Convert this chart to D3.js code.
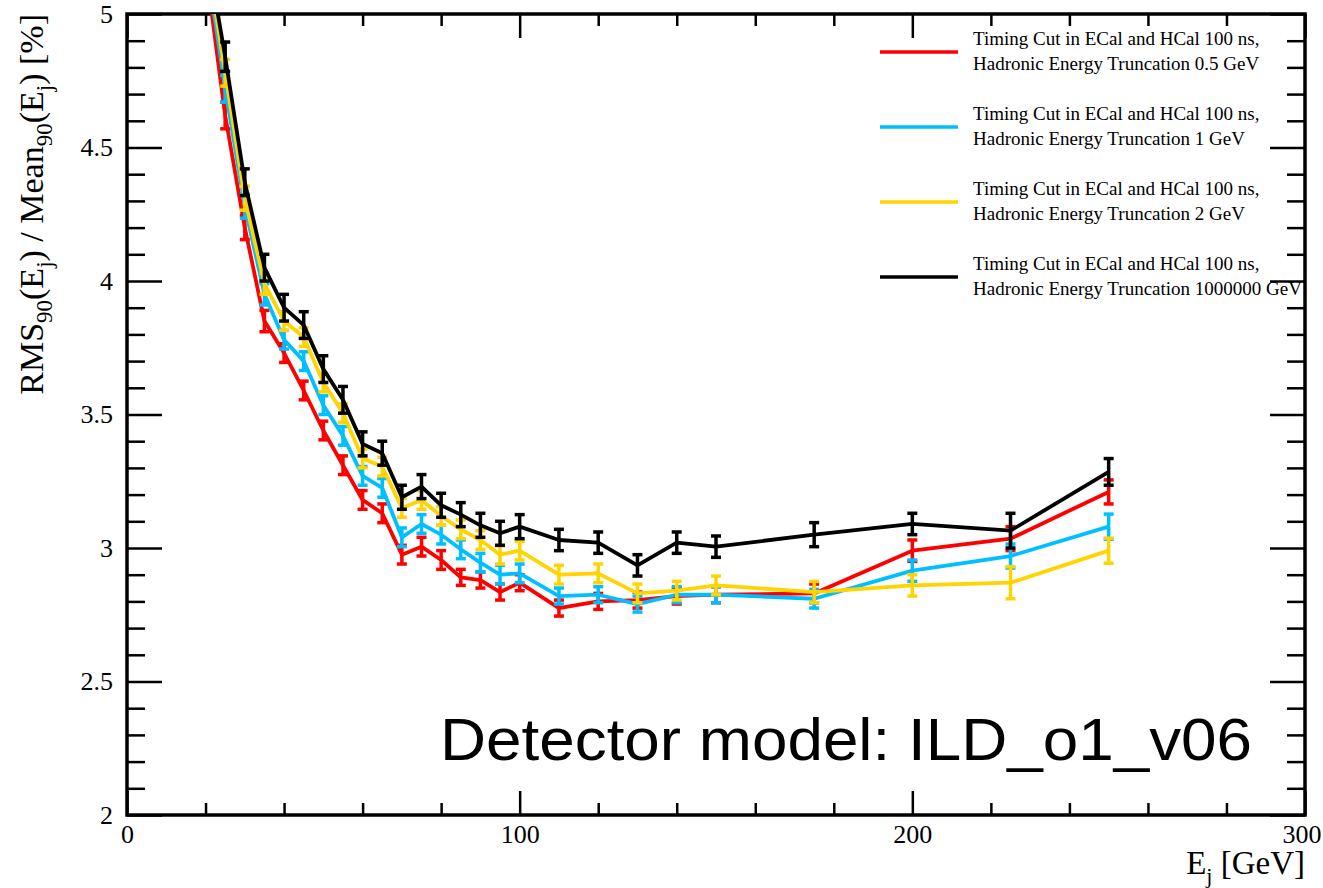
<!DOCTYPE html>
<html>
<head>
<meta charset="utf-8">
<script src="https://cdn.jsdelivr.net/npm/d3@7"></script>
<style>
  body { margin: 0; background: #fff; }
  text { font-family: "Liberation Serif", "Times New Roman", serif; }
</style>
</head>
<body>
<div id="chart"></div>
<script>
//////////////////////////////////////// Data ////////////////////////////////////////
const energies = [20, 25, 30, 35, 40, 45, 50, 55, 60, 65, 70, 75, 80, 85, 90, 95, 100, 110, 120, 130, 140, 150, 175, 200, 225, 250];

const res05 = [5.18, 4.62, 4.20, 3.85, 3.73, 3.59, 3.44, 3.31, 3.18, 3.13, 2.975, 3.005, 2.955, 2.89, 2.88, 2.835, 2.87, 2.775, 2.80, 2.805, 2.82, 2.825, 2.83, 2.99, 3.035, 3.21];
const err05 = [0.05, 0.05, 0.045, 0.04, 0.035, 0.035, 0.035, 0.035, 0.035, 0.035, 0.035, 0.035, 0.035, 0.03, 0.03, 0.03, 0.03, 0.03, 0.03, 0.03, 0.03, 0.03, 0.035, 0.04, 0.045, 0.045];

const res1 = [5.22, 4.72, 4.28, 3.95, 3.78, 3.70, 3.535, 3.42, 3.27, 3.225, 3.04, 3.09, 3.05, 2.995, 2.945, 2.90, 2.905, 2.82, 2.825, 2.79, 2.825, 2.825, 2.81, 2.915, 2.97, 3.08];
const err1 = [0.05, 0.05, 0.045, 0.04, 0.035, 0.035, 0.035, 0.035, 0.035, 0.035, 0.035, 0.035, 0.035, 0.035, 0.035, 0.035, 0.035, 0.03, 0.03, 0.03, 0.03, 0.03, 0.035, 0.04, 0.045, 0.047];

const res2 = [5.25, 4.78, 4.31, 3.99, 3.85, 3.79, 3.62, 3.505, 3.335, 3.305, 3.15, 3.18, 3.12, 3.07, 3.03, 2.975, 2.99, 2.90, 2.905, 2.83, 2.84, 2.86, 2.835, 2.86, 2.87, 2.99];
const err2 = [0.05, 0.05, 0.045, 0.04, 0.035, 0.035, 0.035, 0.035, 0.035, 0.035, 0.035, 0.035, 0.035, 0.035, 0.035, 0.035, 0.035, 0.035, 0.035, 0.035, 0.035, 0.035, 0.04, 0.04, 0.06, 0.047];

const resInf = [5.27, 4.84, 4.37, 4.05, 3.90, 3.835, 3.67, 3.555, 3.39, 3.355, 3.19, 3.23, 3.16, 3.125, 3.085, 3.055, 3.08, 3.03, 3.02, 2.935, 3.02, 3.005, 3.05, 3.09, 3.065, 3.285];
const errInf = [0.055, 0.055, 0.05, 0.05, 0.05, 0.05, 0.05, 0.05, 0.045, 0.045, 0.045, 0.045, 0.045, 0.045, 0.045, 0.045, 0.045, 0.04, 0.04, 0.04, 0.04, 0.04, 0.045, 0.04, 0.065, 0.05];

const legendLine1 = "Timing Cut in ECal and HCal 100 ns,";
const legendLine2 = ["Hadronic Energy Truncation 0.5 GeV", "Hadronic Energy Truncation 1 GeV",
                     "Hadronic Energy Truncation 2 GeV", "Hadronic Energy Truncation 1000000 GeV"];
const colors = ["#ff0000", "#00bfff", "#ffd400", "#000000"];
const seriesVals = [res05, res1, res2, resInf];
const seriesErrs = [err05, err1, err2, errInf];

const xTicks = [0, 100, 200, 300];
const yTicks = [2, 2.5, 3, 3.5, 4, 4.5, 5];

//////////////////////////////////////// Set-Up ////////////////////////////////////////
const W = 1323, H = 888;
const frame = {left: 127, right: 1305, top: 14, bottom: 815};

const x = d3.scaleLinear().domain([0, 300]).range([frame.left, frame.right]);
const y = d3.scaleLinear().domain([2, 5]).range([frame.bottom, frame.top]);

const svg = d3.select("#chart").append("svg")
    .attr("width", W)
    .attr("height", H);

svg.append("defs").append("clipPath").attr("id", "frameClip")
  .append("rect")
    .attr("x", frame.left).attr("y", frame.top)
    .attr("width", frame.right - frame.left)
    .attr("height", frame.bottom - frame.top);

//////////////////////////////////////// Axes ////////////////////////////////////////
const minorX = d3.range(0, 301, 20).filter(d => d % 100 !== 0);
const minorY = d3.range(20, 51, 1).map(d => d / 10).filter(d => Math.abs(d * 2 - Math.round(d * 2)) > 1e-6);

function styleAxis(g) {
  g.select(".domain").remove();
  g.selectAll(".tick line").attr("stroke", "#000").attr("stroke-width", 2.5);
  g.selectAll(".tick text").attr("font-size", 26).attr("fill", "#000");
}

// bottom
svg.append("g").attr("transform", `translate(0,${frame.bottom})`)
  .call(d3.axisBottom(x).tickValues(xTicks).tickSize(-24).tickPadding(10).tickFormat(d3.format("d")))
  .call(styleAxis);
svg.append("g").attr("transform", `translate(0,${frame.bottom})`)
  .call(d3.axisBottom(x).tickValues(minorX).tickSize(-12).tickFormat(""))
  .call(styleAxis);
// top
svg.append("g").attr("transform", `translate(0,${frame.top})`)
  .call(d3.axisTop(x).tickValues(xTicks).tickSize(-24).tickFormat(""))
  .call(styleAxis);
svg.append("g").attr("transform", `translate(0,${frame.top})`)
  .call(d3.axisTop(x).tickValues(minorX).tickSize(-12).tickFormat(""))
  .call(styleAxis);
// left
svg.append("g").attr("transform", `translate(${frame.left},0)`)
  .call(d3.axisLeft(y).tickValues(yTicks).tickSize(-35).tickPadding(14).tickFormat(d3.format("")))
  .call(styleAxis);
svg.append("g").attr("transform", `translate(${frame.left},0)`)
  .call(d3.axisLeft(y).tickValues(minorY).tickSize(-18).tickFormat(""))
  .call(styleAxis);
// right
svg.append("g").attr("transform", `translate(${frame.right},0)`)
  .call(d3.axisRight(y).tickValues(yTicks).tickSize(-35).tickFormat(""))
  .call(styleAxis);
svg.append("g").attr("transform", `translate(${frame.right},0)`)
  .call(d3.axisRight(y).tickValues(minorY).tickSize(-18).tickFormat(""))
  .call(styleAxis);

// the 300 label sits right at the edge, keep it inside the page
svg.selectAll(".tick text").filter(d => d === 300).attr("text-anchor", "end").attr("dx", 16);

// frame
svg.append("rect")
  .attr("x", frame.left).attr("y", frame.top)
  .attr("width", frame.right - frame.left)
  .attr("height", frame.bottom - frame.top)
  .attr("fill", "none").attr("stroke", "#000").attr("stroke-width", 3.5);

//////////////////////////////////////// Titles ////////////////////////////////////////
const xt = svg.append("text")
  .attr("x", frame.right).attr("y", 874)
  .attr("text-anchor", "end")
  .attr("font-size", 33);
xt.append("tspan").text("E");
xt.append("tspan").attr("dy", 9).attr("font-size", 22).text("j");
xt.append("tspan").attr("dy", -9).text(" [GeV]");

const yt = svg.append("text")
  .attr("transform", `translate(43,${frame.top}) rotate(-90)`)
  .attr("text-anchor", "end")
  .attr("font-size", 34);
[["RMS", 0], ["90", 1], ["(E", 0], ["j", 1], [") / Mean", 0], ["90", 1], ["(E", 0], ["j", 1], [") [%]", 0]]
  .forEach(function(p, i, arr) {
    const prevSub = i > 0 && arr[i - 1][1];
    const dy = p[1] && !prevSub ? 9 : (!p[1] && prevSub ? -9 : 0);
    yt.append("tspan").attr("dy", dy).attr("font-size", p[1] ? 23 : 34).text(p[0]);
  });

//////////////////////////////////////// Series ////////////////////////////////////////
const plot = svg.append("g").attr("clip-path", "url(#frameClip)");

const line = d3.line()
  .x(d => x(d.e))
  .y(d => y(d.v));

seriesVals.forEach(function(vals, s) {
  const pts = energies.map((e, i) => ({e: e, v: vals[i], err: seriesErrs[s][i]}));
  const g = plot.append("g");
  g.append("path")
    .datum(pts)
    .attr("fill", "none")
    .attr("stroke", colors[s])
    .attr("stroke-width", 3.8)
    .attr("stroke-linejoin", "round")
    .attr("d", line);

  const bars = g.selectAll("g.err").data(pts).enter().append("g").attr("class", "err");
  bars.append("line")
    .attr("x1", d => x(d.e)).attr("x2", d => x(d.e))
    .attr("y1", d => y(d.v - d.err)).attr("y2", d => y(d.v + d.err))
    .attr("stroke", colors[s]).attr("stroke-width", 3.5);
  [-1, 1].forEach(function(sign) {
    bars.append("line")
      .attr("x1", d => x(d.e) - 5).attr("x2", d => x(d.e) + 5)
      .attr("y1", d => y(d.v + sign * d.err)).attr("y2", d => y(d.v + sign * d.err))
      .attr("stroke", colors[s]).attr("stroke-width", 3.5);
  });
});

//////////////////////////////////////// Legend ////////////////////////////////////////
const legend = svg.append("g");
colors.forEach(function(c, i) {
  const ly = 52 + i * 75;
  legend.append("line")
    .attr("x1", 880).attr("x2", 958)
    .attr("y1", ly).attr("y2", ly)
    .attr("stroke", c).attr("stroke-width", 3.5);
  legend.append("text").attr("x", 973).attr("y", ly - 7)
    .attr("font-size", 19).text(legendLine1);
  legend.append("text").attr("x", 973).attr("y", ly + 18)
    .attr("font-size", 19).text(legendLine2[i]);
});

//////////////////////////////////////// Label ////////////////////////////////////////
svg.append("text")
  .attr("x", 440).attr("y", 760)
  .style("font-family", "'Liberation Sans', Arial, sans-serif")
  .attr("font-size", 59)
  .attr("textLength", 812)
  .attr("lengthAdjust", "spacingAndGlyphs")
  .text("Detector model: ILD_o1_v06");
</script>
</body>
</html>
